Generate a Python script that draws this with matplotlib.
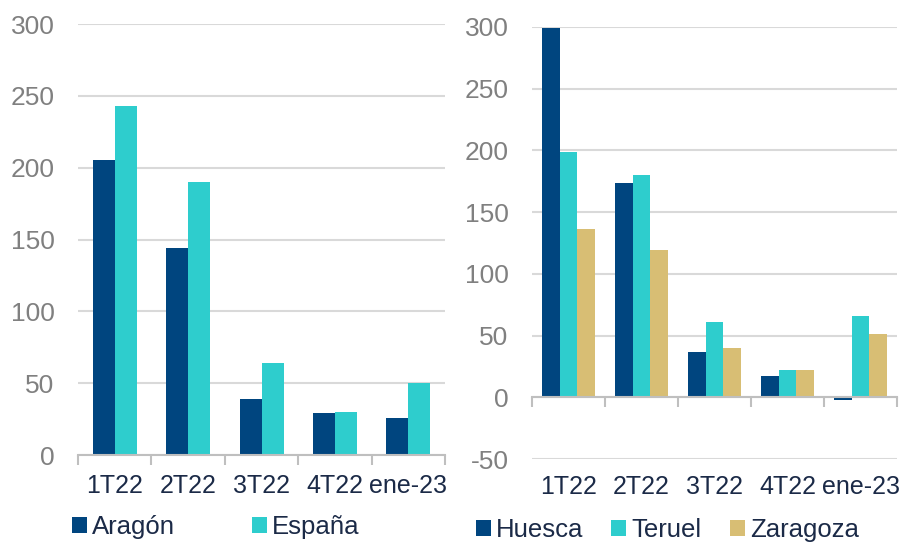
import numpy as np
import matplotlib.pyplot as plt
from matplotlib.ticker import FixedLocator

plt.rcParams['font.family'] = ['Liberation Sans', 'DejaVu Sans']
plt.rcParams['axes.unicode_minus'] = False

# datos
periodos = ['1T22', '2T22', '3T22', '4T22', 'ene-23']
aragon = [205, 144, 39, 29, 26]
espana = [243, 190, 64, 30, 50]
huesca = [299, 174, 37, 17, -2]
teruel = [199, 180, 61, 22, 66]
zaragoza = [136, 119, 40, 22, 51]

NAVY = '#00457F'
TEAL = '#2ECDCD'
GOLD = '#D8BE74'
GRID = '#D9D9D9'
AXIS = '#BFBFBF'
GRAY = '#808080'
TXT = '#1B2A47'

fig = plt.figure(figsize=(9.01, 5.42), dpi=100)
ax1 = fig.add_axes([0.0866, 0.1605, 0.4074, 0.7952])
ax2 = fig.add_axes([0.5905, 0.1531, 0.4051, 0.7971])

x = np.arange(len(periodos))


def style(ax, lo, hi, pad_x):
    ax.set_xlim(-0.5, len(periodos) - 0.5)
    ax.set_ylim(lo, hi)
    ax.set_yticks(np.arange(lo, hi + 1, 50))
    for s in ['top', 'right', 'left']:
        ax.spines[s].set_visible(False)
    ax.spines['bottom'].set_position(('data', 0))
    ax.spines['bottom'].set_color(AXIS)
    ax.spines['bottom'].set_linewidth(1.5)
    ax.set_xticks(x)
    ax.set_xticklabels(periodos)
    ax.xaxis.set_minor_locator(FixedLocator(np.arange(-0.5, len(periodos), 1)))
    ax.tick_params(axis='x', which='major', length=0, pad=pad_x,
                   labelsize=18, labelcolor=TXT)
    ax.tick_params(axis='x', which='minor', length=7, width=1.5,
                   color=AXIS, direction='out')
    ax.tick_params(axis='y', length=0, pad=17, labelsize=19, labelcolor=GRAY)
    ax.yaxis.grid(True, color=GRID, linewidth=1.5)
    ax.set_axisbelow(True)


leg_kw = dict(frameon=False, fontsize=18.5, labelcolor=TXT, handlelength=0.58,
              handleheight=0.58, handletextpad=0.2, borderaxespad=0, borderpad=0,
              bbox_transform=fig.transFigure, loc='upper left')

# izquierda
w = 0.3
ax1.bar(x - w / 2, aragon, w, color=NAVY, label='Aragón')
ax1.bar(x + w / 2, espana, w, color=TEAL, label='España')
style(ax1, 0, 300, 14)
ax1.legend(bbox_to_anchor=(0.080, 0.049), ncol=2, columnspacing=3.0, **leg_kw)

# derecha
w2 = 0.24
ax2.bar(x - w2, huesca, w2, color=NAVY, label='Huesca')
ax2.bar(x, teruel, w2, color=TEAL, label='Teruel')
ax2.bar(x + w2, zaragoza, w2, color=GOLD, label='Zaragoza')
style(ax2, -50, 300, 56)
ax2.legend(bbox_to_anchor=(0.528, 0.045), ncol=3, columnspacing=1.1, **leg_kw)

fig.savefig('out.png', dpi=100)
